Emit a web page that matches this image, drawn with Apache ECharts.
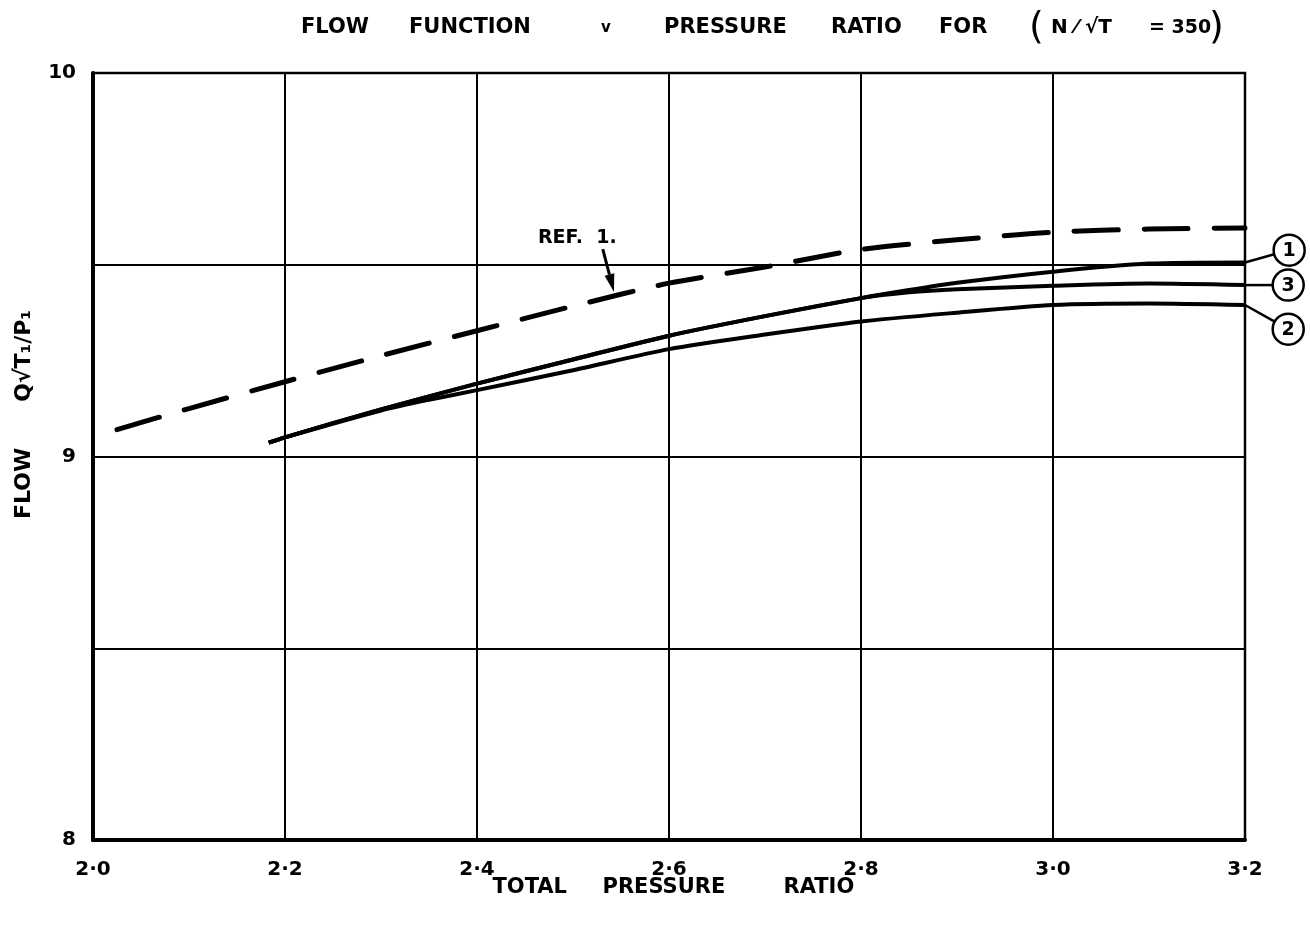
<!DOCTYPE html>
<html><head><meta charset="utf-8">
<script src="https://cdn.jsdelivr.net/npm/echarts@6/dist/echarts.min.js"></script>
<style>html,body{margin:0;padding:0;background:#fff}#c{width:1310px;height:927px}</style>
</head><body><div id="c"></div>
<script>
// ---- data ----
const xTickLabels = ['2·0','2·2','2·4','2·6','2·8','3·0','3·2'];
const yTickLabels = ['8','9','10'];

const refX = [2.025,2.1,2.2,2.3,2.4,2.5,2.6,2.7,2.8,2.9,3.0,3.1,3.2];
const refY = [9.07,9.125,9.195,9.263,9.328,9.392,9.452,9.494,9.540,9.565,9.585,9.593,9.596];

const curve1X = [2.183,2.2,2.3,2.4,2.5,2.6,2.7,2.8,2.85,2.9,3.0,3.1,3.2];
const curve1Y = [9.036,9.05,9.123,9.19,9.253,9.315,9.366,9.413,9.434,9.453,9.482,9.503,9.506];

const curve3X = [2.183,2.2,2.3,2.4,2.5,2.6,2.7,2.8,2.85,2.9,3.0,3.1,3.2];
const curve3Y = [9.036,9.05,9.123,9.19,9.253,9.315,9.366,9.413,9.428,9.436,9.445,9.451,9.447];

const curve2X = [2.183,2.2,2.3,2.35,2.4,2.5,2.6,2.7,2.8,2.9,3.0,3.1,3.2];
const curve2Y = [9.036,9.05,9.12,9.148,9.173,9.225,9.28,9.318,9.352,9.375,9.395,9.399,9.395];

const curveNames = ['1','3','2'];

const zip = (xs, ys) => xs.map((x, i) => [x, ys[i]]);
const FONT = 'DejaVu Sans';

const chart = echarts.init(document.getElementById('c'), null, {renderer: 'canvas'});

const lbl = () => ({fontSize: 21, fontWeight: 'bold', fontFamily: FONT, color: '#000', lineHeight: 44, verticalAlign: 'middle', align: 'left'});
const nm = (w) => ({width: w, fontSize: 21, fontWeight: 'bold', fontFamily: FONT, color: '#000', align: 'left'});

const option = {
  animation: false,
  backgroundColor: '#fff',
  title: {
    left: 296, top: 1,
    text: '{a|FLOW}{b|FUNCTION}{c|v}{d|PRESSURE}{e|RATIO}{f|FOR}{g|(}{h|N ⁄ √T}{i|= 350}{j|)}',
    textStyle: {
      rich: {
        a: Object.assign(lbl(), {width: 108}),
        b: Object.assign(lbl(), {width: 192}),
        c: Object.assign(lbl(), {width: 63, fontSize: 15}),
        d: Object.assign(lbl(), {width: 167}),
        e: Object.assign(lbl(), {width: 108}),
        f: Object.assign(lbl(), {width: 90}),
        g: Object.assign(lbl(), {width: 22, fontSize: 38, fontWeight: 'normal'}),
        h: Object.assign(lbl(), {width: 98, fontSize: 20}),
        i: Object.assign(lbl(), {width: 60, fontSize: 19}),
        j: Object.assign(lbl(), {width: 20, fontSize: 38, fontWeight: 'normal'})
      }
    }
  },
  grid: {left: 93, right: 65, top: 73, bottom: 87, show: true, borderColor: '#000', borderWidth: 2.5, containLabel: false},
  xAxis: {
    type: 'value', min: 2.0, max: 3.2, interval: 0.2,
    name: '{a|TOTAL}{b|PRESSURE}{c|RATIO}', nameLocation: 'middle', nameGap: 37, nameMoveOverlap: false,
    nameTextStyle: {fontSize: 21, fontWeight: 'bold', fontFamily: FONT, color: '#000', padding: [0, 0, 0, 12],
      rich: {a: nm(110), b: nm(181), c: nm(74)}},
    axisLine: {show: true, lineStyle: {color: '#000', width: 4}},
    axisTick: {show: false},
    axisLabel: {margin: 20, fontSize: 20, fontWeight: 'bold', fontFamily: FONT, color: '#000',
      formatter: (v) => { const i = Math.round((v - 2.0) / 0.2); return xTickLabels[i] || ''; }},
    splitLine: {show: true, lineStyle: {color: '#000', width: 2}}
  },
  yAxis: {
    type: 'value', min: 8, max: 10, interval: 0.5,
    name: 'FLOW      Q√T₁/P₁', nameLocation: 'middle', nameGap: 58, nameRotate: 90,
    nameTextStyle: {fontSize: 22, fontWeight: 'bold', fontFamily: FONT, color: '#000', padding: [0, 0, 0, 84]},
    axisLine: {show: true, lineStyle: {color: '#000', width: 4}},
    axisTick: {show: false},
    axisLabel: {margin: 17, fontSize: 20, fontWeight: 'bold', fontFamily: FONT, color: '#000',
      formatter: (v) => { const r = Math.round(v); return Math.abs(v - r) < 1e-6 ? yTickLabels[r - 8] : ''; }},
    splitLine: {show: true, lineStyle: {color: '#000', width: 2}}
  },
  series: [
    {name: 'REF. 1.', type: 'line', data: zip(refX, refY), showSymbol: false, smooth: 0.25,
      lineStyle: {color: '#000', width: 5, type: [44, 26], cap: 'round'}},
    {name: curveNames[0], type: 'line', data: zip(curve1X, curve1Y), showSymbol: false, smooth: 0.25,
      lineStyle: {color: '#000', width: 4}},
    {name: curveNames[1], type: 'line', data: zip(curve3X, curve3Y), showSymbol: false, smooth: 0.25,
      lineStyle: {color: '#000', width: 4}},
    {name: curveNames[2], type: 'line', data: zip(curve2X, curve2Y), showSymbol: false, smooth: 0.25,
      lineStyle: {color: '#000', width: 4}}
  ]
};
chart.setOption(option);

// ---- annotations anchored to data coordinates ----
const px = (p) => chart.convertToPixel({gridIndex: 0}, p);
const g = [];
const ends = [
  {p: [curve1X[curve1X.length-1], curve1Y[curve1Y.length-1]], c: [3.246, 9.538], t: curveNames[0]},
  {p: [curve3X[curve3X.length-1], curve3Y[curve3Y.length-1]], c: [3.245, 9.447], t: curveNames[1]},
  {p: [curve2X[curve2X.length-1], curve2Y[curve2Y.length-1]], c: [3.245, 9.332], t: curveNames[2]}
];
const R = 15.5;
ends.forEach(e => {
  const a = px(e.p), c = px(e.c);
  const dx = c[0]-a[0], dy = c[1]-a[1], L = Math.hypot(dx, dy);
  const edge = [c[0]-dx/L*R, c[1]-dy/L*R];
  g.push({type: 'line', shape: {x1: a[0], y1: a[1], x2: edge[0], y2: edge[1]}, style: {stroke: '#000', lineWidth: 2.5}, silent: true});
  g.push({type: 'circle', shape: {cx: c[0], cy: c[1], r: R}, style: {fill: '#fff', stroke: '#000', lineWidth: 2.5}, silent: true});
  g.push({type: 'text', x: c[0], y: c[1]+1, style: {text: e.t, fontSize: 19, fontWeight: 'bold', fontFamily: FONT, fill: '#000', align: 'center', verticalAlign: 'middle'}, silent: true});
});
// REF. 1. label and arrow
const tp = px([2.4635, 9.5698]);
g.push({type: 'text', x: tp[0], y: tp[1], style: {text: 'REF.  1.', fontSize: 19, fontWeight: 'bold', fontFamily: FONT, fill: '#000', align: 'left', verticalAlign: 'middle'}, silent: true});
const a0 = px([2.531, 9.541]), a1 = px([2.5427, 9.429]);
const adx = a1[0]-a0[0], ady = a1[1]-a0[1], aL = Math.hypot(adx, ady);
const ux = adx/aL, uy = ady/aL, nx = -uy, ny = ux;
const base = [a1[0]-ux*18, a1[1]-uy*18];
g.push({type: 'line', shape: {x1: a0[0], y1: a0[1], x2: base[0], y2: base[1]}, style: {stroke: '#000', lineWidth: 3}, silent: true});
g.push({type: 'polygon', shape: {points: [a1, [base[0]+nx*5, base[1]+ny*5], [base[0]-nx*5, base[1]-ny*5]]}, style: {fill: '#000'}, silent: true});
chart.setOption({graphic: g});
</script>
</body></html>
